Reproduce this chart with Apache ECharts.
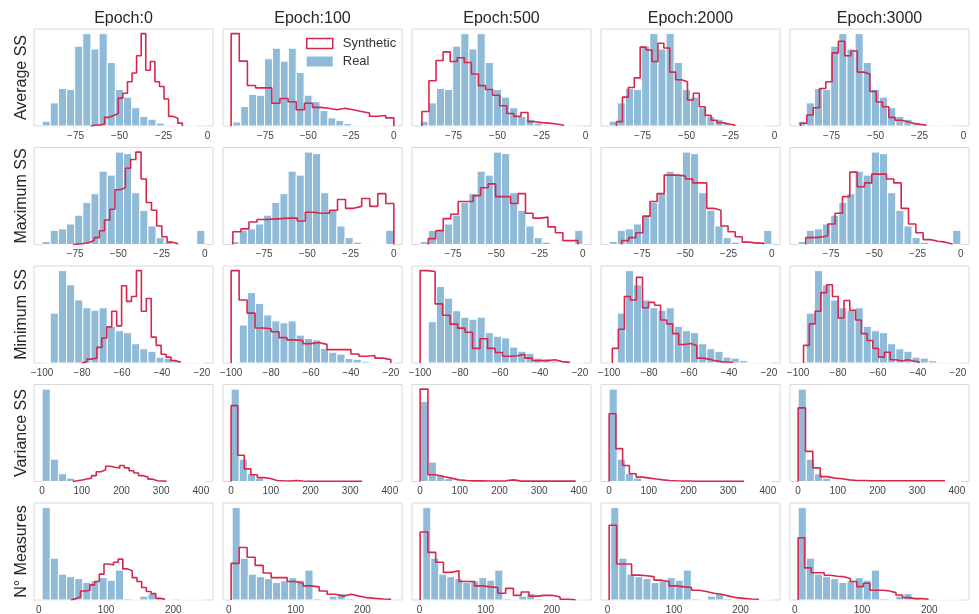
<!DOCTYPE html>
<html>
<head>
<meta charset="utf-8">
<title>Real vs synthetic feature distributions</title>
<script src="https://cdn.jsdelivr.net/npm/echarts@6/dist/echarts.min.js"></script>
<style>
  html, body { margin: 0; padding: 0; background: #fff; }
  #chart { width: 979px; height: 614px; }
</style>
</head>
<body>
<div id="chart"></div>
<script>
// Column titles and row labels
const epochs = ['Epoch:0', 'Epoch:100', 'Epoch:500', 'Epoch:2000', 'Epoch:3000'];
const features = ['Average SS', 'Maximum SS', 'Minimum SS', 'Variance SS', 'N° Measures'];

// Tick labels per row
const avgTicks = [-75, -50, -25, 0];
const maxTicks = [-75, -50, -25, 0];
const minTicks = [-100, -80, -60, -40, -20];
const varTicks = [0, 100, 200, 300, 400];
const numTicks = [0, 100, 200];

// Average SS: real histogram (20 bins) and synthetic histograms per epoch
const avgRealRange = [-94, -1.5];
const avgReal = [5, 24, 39, 38, 83, 96, 80, 96, 66, 38, 30, 19, 10, 7, 3, 1, 0.7, 0.3, 0, 1];
const avgSynRanges = [[-66.3, -14.3], [-95, 0], [-93, -12.6], [-89.8, -22.6], [-92.6, -21]];
const avgSyn0 = [1, 1, 2, 9, 11, 13, 29, 34, 46, 55, 73, 96, 58, 67, 46, 41, 28, 10, 8, 3];
const avgSyn100 = [114, 80, 50, 47, 47, 28, 34, 30, 20, 28, 23, 22, 20, 22, 20, 18, 16, 12, 13, 10];
const avgSyn500 = [15, 47, 68, 77, 67, 71, 66, 54, 42, 38, 32, 21, 13, 10, 14, 4.5, 3.5, 3, 2, 1];
const avgSyn2000 = [4.5, 30, 40, 50, 82, 79, 67, 86, 81, 56, 48, 46, 27, 34, 20, 11, 6, 3.5, 2, 1];
const avgSyn3000 = [2.8, 11.5, 19, 39, 46, 76, 88, 73, 78, 56, 54, 36, 25, 20, 9, 6, 4.5, 2.8, 1.7, 0.7];

// Maximum SS
const maxRealRange = [-94, 0];
const maxReal = [3, 14.5, 16, 21, 30, 43, 52, 75, 71, 94.5, 93, 53, 35, 19, 7, 2.4, 0.7, 0, 0, 14.5];
const maxSynRanges = [[-76, -15.8], [-93, 0], [-89.3, -2.9], [-86.8, -4.8], [-89.6, -4.8]];
const maxSyn0 = [0.5, 1, 2, 4, 7, 14, 25, 36, 56, 58, 78, 87, 94.5, 67, 43, 35, 19, 8, 2.4, 1];
const maxSyn100 = [13, 16, 23, 25.5, 26, 26.5, 27, 27, 24, 33, 32, 32, 35, 46, 37, 39, 47, 39, 52, 42];
const maxSyn500 = [6, 14, 26.5, 31, 44, 44, 50, 58, 62, 49, 49, 42, 52, 32, 27, 28, 18, 12, 4, 4];
const maxSyn2000 = [4, 7, 12, 29, 44, 52, 71, 71, 70, 67, 63, 63, 37, 35, 19, 13, 8, 2.4, 1.4, 1.4];
const maxSyn3000 = [7, 7.5, 9, 21, 32, 49, 74, 59, 63, 72, 72, 67, 63, 37, 21, 12, 5, 3.4, 2.4, 0.5];

// Minimum SS
const minRealRange = [-100, -18.5];
const minReal = [0.7, 51, 94.5, 80, 64.5, 56.5, 54, 56.5, 37.5, 33, 31, 19.7, 14.5, 12, 6, 5, 2.4, 0.7, 0, 0.5];
const minSynRanges = [[-80, -30.5], [-100, -20], [-100, -25], [-98.4, -38], [-97.3, -39.4]];
const minSyn0 = [1.4, 4, 5, 16, 25.5, 37, 53, 38, 79, 63, 68, 94.5, 53, 66, 26.5, 18, 9, 6, 2.4, 0.7];
const minSyn100 = [124, 84.5, 67, 47, 46, 42, 34, 31, 30, 26, 27.5, 25, 18, 18, 18, 12, 9, 10, 6.5, 4.5];
const minSyn500 = [114, 113, 73, 59, 48, 43, 38, 18, 30, 18, 13, 8.4, 9, 10.8, 6, 2.9, 2.9, 4, 1.7, 0.8];
const minSyn2000 = [15, 34.5, 68, 64.5, 87.6, 56.5, 62, 59, 44, 40, 30, 19, 20, 18, 5, 4, 2.4, 1.4, 1, 0.7];
const minSyn3000 = [18, 40, 53, 72, 80, 68, 46, 64, 54, 44, 30, 23, 15, 6, 11, 3.4, 2, 3.4, 2, 1];

// Variance SS
const varRealRange = [0, 410];
const varReal = [95, 23, 8, 3.5, 1.2, 0.6, 0.4, 0.3, 0.2, 0.1, 0.1, 0.1, 0, 0, 0, 0, 0, 0, 0, 0.1];
const varSynRanges = [[77, 314], [0, 330], [0, 392], [0, 340], [0, 370]];
const varSyn0 = [0.7, 1.5, 2.5, 3.5, 6, 10, 12, 15.7, 14.6, 14, 16.4, 14, 11, 8.7, 6, 4.5, 2.4, 0.7, 0.5, 0.3];
const varSyn100 = [78, 27, 13, 7, 4, 3, 1, 0.7, 0.5, 1, 0.5, 0.3, 0.3, 0.3, 0.3, 0.2, 0.2, 0.2, 0.2, 0.2];
const varSyn500 = [109.6, 8, 5.9, 4, 1.9, 1.1, 0.8, 0.8, 0.6, 0.6, 0.8, 1.9, 0.4, 0.4, 0.4, 0.4, 0.4, 0.4, 0.4, 0.4];
const varSyn2000 = [69.7, 33.8, 16.4, 8, 4.5, 3.5, 2.5, 1.7, 1, 0.7, 0.5, 0.5, 0.3, 0.3, 0.3, 0.3, 0.2, 0.1, 0.1, 0.1];
const varSyn3000 = [75.7, 31, 14, 5, 3.5, 2.8, 1.7, 1, 1, 0.7, 0.7, 0.7, 0.7, 0.7, 0.7, 0.7, 0.7, 0.7, 0.7, 0.7];

// N° Measures
const numRealRange = [5, 247];
const numReal = [95, 43, 26.6, 24, 22, 18, 19.7, 23, 20.4, 30.8, 1.4, 0.7, 4, 6.6, 1.4, 0.3, 1, 0.3, 0.7, 0.7];
const numSynRanges = [[48, 188], [3.5, 243], [1, 236], [2.5, 227.5], [5, 199]];
const numSyn0 = [1.4, 3, 9.3, 10, 15.6, 19, 26.6, 37, 36, 38.8, 42, 32, 30, 23, 19, 12.8, 8.7, 6.6, 1.7, 0.7];
const numSyn100 = [37.7, 54, 44, 35.6, 27.7, 23, 23, 19, 17.3, 14.5, 13.5, 9.3, 5.9, 4, 5.9, 4, 2.4, 1.7, 1, 0.7];
const numSyn500 = [70, 49, 38.8, 28.4, 30, 19, 19, 14.5, 13.5, 12.8, 6.9, 12, 4.8, 8.3, 4, 4.8, 4.8, 3, 0.7, 0.3];
const numSyn2000 = [76.8, 37, 37, 25.6, 25, 24, 20.4, 19, 14.5, 13.5, 12.8, 10, 8.7, 6.9, 5.9, 4, 2.4, 1.7, 1, 0.7];
const numSyn3000 = [64, 33, 28, 28, 25.5, 24.5, 24, 22, 19, 13.8, 17.2, 10, 10, 9.3, 7.6, 5.2, 2.4, 1.4, 1.4, 0.7];

const rows = [
  { ticks: avgTicks, realRange: avgRealRange, real: avgReal, synRanges: avgSynRanges,
    syn: [avgSyn0, avgSyn100, avgSyn500, avgSyn2000, avgSyn3000] },
  { ticks: maxTicks, realRange: maxRealRange, real: maxReal, synRanges: maxSynRanges,
    syn: [maxSyn0, maxSyn100, maxSyn500, maxSyn2000, maxSyn3000] },
  { ticks: minTicks, realRange: minRealRange, real: minReal, synRanges: minSynRanges,
    syn: [minSyn0, minSyn100, minSyn500, minSyn2000, minSyn3000] },
  { ticks: varTicks, realRange: varRealRange, real: varReal, synRanges: varSynRanges,
    syn: [varSyn0, varSyn100, varSyn500, varSyn2000, varSyn3000] },
  { ticks: numTicks, realRange: numRealRange, real: numReal, synRanges: numSynRanges,
    syn: [numSyn0, numSyn100, numSyn500, numSyn2000, numSyn3000] }
];

const FONT = '"Liberation Sans", Arial, sans-serif';
const BLUE = '#8fbbd9';
const RED = '#d8274d';
const FRAME = '#d9d9d9';
const TEXT = '#262626';

// Evenly spaced bin edges over a range
function binEdges(range, n) {
  const w = (range[1] - range[0]) / n;
  const e = [];
  for (let i = 0; i <= n; i++) e.push(range[0] + i * w);
  return e;
}

// Outline of a step histogram: up at the first edge, across each bin, down at the last edge
function stepOutline(edges, counts) {
  const pts = [[edges[0], 0]];
  counts.forEach((v, i) => { pts.push([edges[i], v]); pts.push([edges[i + 1], v]); });
  pts.push([edges[edges.length - 1], 0]);
  return pts;
}

function renderBar(params, api) {
  const p0 = api.coord([api.value(0), api.value(2)]);
  const p1 = api.coord([api.value(1), 0]);
  return {
    type: 'rect',
    shape: { x: p0[0], y: p0[1], width: p1[0] - p0[0], height: p1[1] - p0[1] },
    style: { fill: BLUE, stroke: '#ffffff', lineWidth: 1 }
  };
}

const grids = [], xAxes = [], yAxes = [], series = [], graphics = [];
const colLeft = c => 34 + c * 189;
const rowTop = r => 29 + r * 118.5;
const PW = 179, PH = 97;

rows.forEach((row, r) => {
  for (let c = 0; c < 5; c++) {
    const idx = r * 5 + c;
    const syn = row.syn[c];
    const synRange = row.synRanges[c];
    const realE = binEdges(row.realRange, row.real.length);
    const synE = binEdges(synRange, syn.length);
    const lo = Math.min(row.realRange[0], synRange[0]);
    const hi = Math.max(row.realRange[1], synRange[1]);
    const pad = 0.05 * (hi - lo);
    const xmin = lo - pad, xmax = hi + pad;
    const ymax = 1.05 * Math.max(...row.real, ...syn);

    grids.push({
      left: colLeft(c), top: rowTop(r), width: PW, height: PH,
      show: true, borderColor: FRAME, borderWidth: 1, backgroundColor: '#fff',
      containLabel: false, outerBoundsMode: 'none'
    });
    xAxes.push({
      gridIndex: idx, type: 'value', min: xmin, max: xmax,
      axisLine: { show: false }, axisTick: { show: false }, splitLine: { show: false },
      axisLabel: {
        customValues: row.ticks.filter(t => t >= xmin && t <= xmax),
        formatter: v => String(v).replace('-', '\u2212'),
        fontSize: 10, color: '#444', margin: 5, fontFamily: FONT
      }
    });
    yAxes.push({ gridIndex: idx, type: 'value', min: 0, max: ymax, show: false });

    series.push({
      type: 'custom', name: 'Real', xAxisIndex: idx, yAxisIndex: idx,
      data: row.real.map((v, i) => [realE[i], realE[i + 1], v]),
      encode: { x: [0, 1], y: 2 }, renderItem: renderBar, z: 2, silent: true,
      itemStyle: { color: BLUE }
    });
    series.push({
      type: 'line', name: 'Synthetic', xAxisIndex: idx, yAxisIndex: idx,
      data: stepOutline(synE, syn), showSymbol: false, symbol: 'none',
      lineStyle: { color: RED, width: 1.6 }, itemStyle: { color: RED },
      z: 3, silent: true, clip: true
    });
  }
});

// Column titles
epochs.forEach((t, c) => {
  graphics.push({
    type: 'text', x: colLeft(c) + PW / 2, y: 19,
    style: { text: t, fill: TEXT, font: '16px ' + FONT, textAlign: 'center', textVerticalAlign: 'middle' }
  });
});
// Row labels
features.forEach((t, r) => {
  graphics.push({
    type: 'text', x: 22, y: rowTop(r) + PH / 2, rotation: Math.PI / 2,
    style: { text: t, fill: TEXT, font: '16px ' + FONT, textAlign: 'center', textVerticalAlign: 'middle' }
  });
});

const chart = echarts.init(document.getElementById('chart'), null, { renderer: 'canvas' });
chart.setOption({
  animation: false,
  backgroundColor: '#ffffff',
  grid: grids,
  xAxis: xAxes,
  yAxis: yAxes,
  series: series,
  graphic: graphics,
  legend: {
    orient: 'vertical', left: 306, top: 37, padding: 0,
    itemWidth: 26, itemHeight: 10, itemGap: 5, selectedMode: false,
    textStyle: { fontSize: 13, color: '#333', fontFamily: FONT, padding: [0, 0, 0, 5] },
    data: [
      { name: 'Synthetic', icon: 'rect', itemStyle: { color: '#ffffff', borderColor: RED, borderWidth: 1.5 } },
      { name: 'Real', icon: 'rect', itemStyle: { color: BLUE, borderWidth: 0 } }
    ]
  }
});
</script>
</body>
</html>
